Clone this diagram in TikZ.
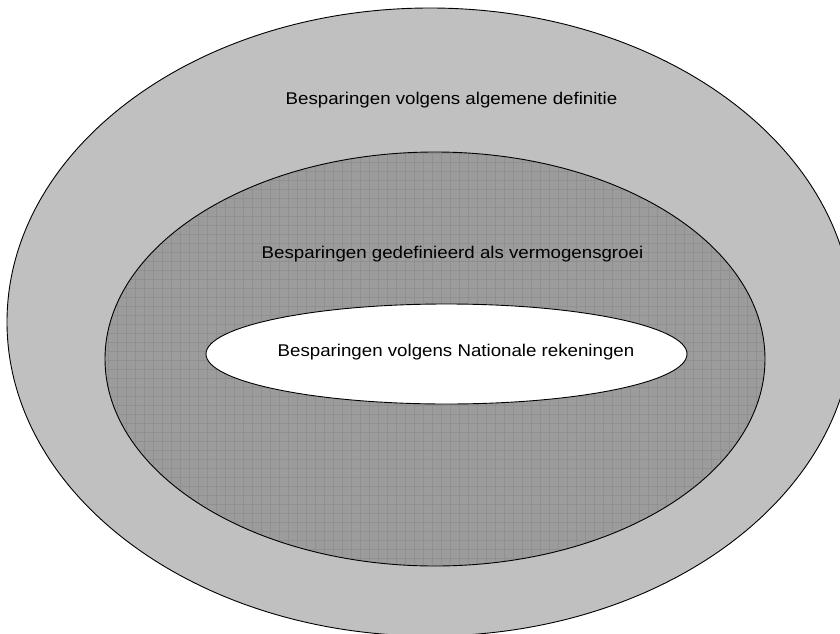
\documentclass[tikz,border=0pt]{standalone}
\usepackage{fontspec}
\usepackage{graphicx}
\setmainfont{Liberation Sans}
\definecolor{outerfill}{HTML}{C0C0C0}
\definecolor{midfill}{HTML}{9C9C9C}
\definecolor{midgrid}{HTML}{909090}
\newcommand{\widetext}[1]{\scalebox{1.1}[1]{#1}}
\begin{document}
\begin{tikzpicture}[x=1pt,y=-1pt,
  ring/.style={draw=black,line width=0.9pt},
  lbl/.style={font=\fontsize{17}{20}\selectfont,text=black,inner sep=0pt}]
\useasboundingbox (0,0) rectangle (840,634);
\clip (0,0) rectangle (840,634);
% outer set
\draw[ring,fill=outerfill] (430,322) ellipse [x radius=423,y radius=314];
% middle set with a fine grid texture
\fill[midfill] (435,359) ellipse [x radius=330,y radius=207];
\begin{scope}
  \clip (435,359) ellipse [x radius=330,y radius=207];
  \foreach \gx in {0,9,...,840} {\draw[midgrid,line width=0.6pt] (\gx,0) -- (\gx,634);}
  \foreach \gy in {0,9,...,634} {\draw[midgrid,line width=0.6pt] (0,\gy) -- (840,\gy);}
\end{scope}
\draw[ring] (435,359) ellipse [x radius=330,y radius=207];
% inner set
\draw[ring,fill=white] (446.5,354) ellipse [x radius=240.5,y radius=50];
% labels
\node[lbl] (tOuter) at (451.5,100) {\widetext{Besparingen volgens algemene definitie}};
\node[lbl] (tMid) at (452.5,254) {\widetext{Besparingen gedefinieerd als vermogensgroei}};
\node[lbl] (tInner) at (456,352) {\widetext{Besparingen volgens Nationale rekeningen}};
\end{tikzpicture}
\end{document}
